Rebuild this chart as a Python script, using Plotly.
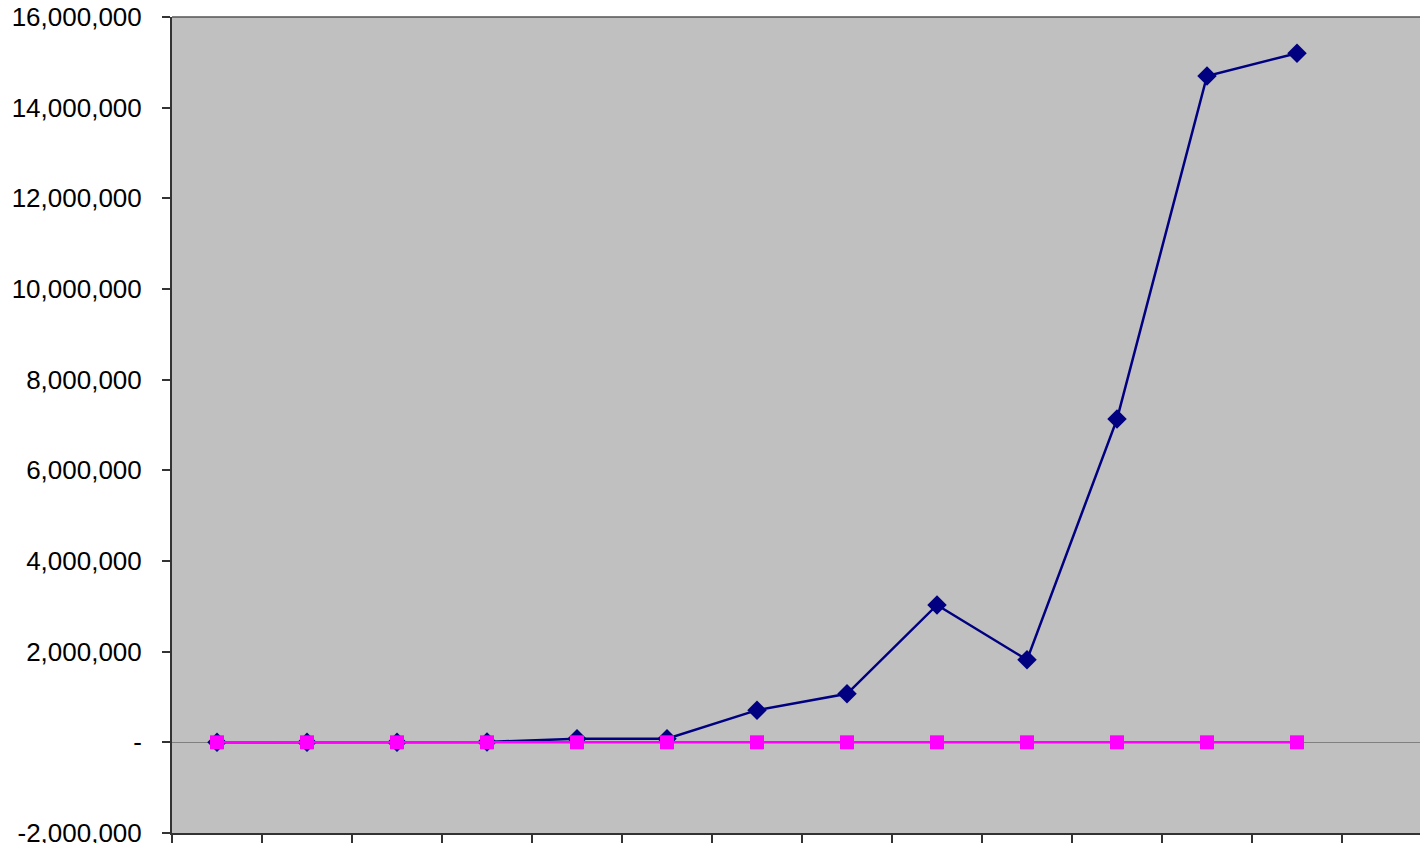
import plotly.graph_objects as go

# category positions (period index; labels fall outside the visible frame)
periods = list(range(13))
series_a = [0, 0, 0, 10000, 80000, 80000, 710000, 1070000, 3030000, 1820000, 7130000, 14700000, 15200000]
series_b = [0, 0, 0, 0, 0, 0, 0, 0, 0, 0, 0, 0, 0]
y_tickvals = [-2000000, 0, 2000000, 4000000, 6000000, 8000000, 10000000, 12000000, 14000000, 16000000]
y_ticktext = ["-2,000,000", "-", "2,000,000", "4,000,000", "6,000,000", "8,000,000",
              "10,000,000", "12,000,000", "14,000,000", "16,000,000"]

fig = go.Figure()
fig.add_trace(go.Scatter(
    x=periods, y=series_a, mode="lines+markers",
    line=dict(color="#000080", width=2.5),
    marker=dict(symbol="diamond", size=15, color="#000080"),
    showlegend=False,
))
fig.add_trace(go.Scatter(
    x=periods, y=series_b, mode="lines+markers",
    line=dict(color="#FF00FF", width=2.5),
    marker=dict(symbol="square", size=14, color="#FF00FF"),
    showlegend=False,
))

n_visible = 1256 / 90.0
fig.update_layout(
    width=1420, height=835,
    margin=dict(l=164, r=0, t=9, b=10, autoexpand=False),
    paper_bgcolor="white",
    plot_bgcolor="#C0C0C0",
    font=dict(family="Liberation Sans, Arial, sans-serif", size=26, color="black"),
    xaxis=dict(
        range=[-0.5, -0.5 + n_visible],
        tickvals=[i - 0.5 for i in range(15)],
        showticklabels=False, automargin=False,
        ticks="outside", ticklen=12, tickwidth=1.5, tickcolor="#333333",
        showgrid=False, zeroline=False,
        showline=True, linecolor="#333333", linewidth=2,
    ),
    yaxis=dict(
        range=[-2000000, 16000000],
        tickvals=y_tickvals, ticktext=y_ticktext, automargin=False,
        ticks="outside", ticklen=8, tickwidth=1.5, tickcolor="#333333",
        ticklabelstandoff=15,
        ticklabeloverflow="allow",
        showgrid=False,
        zeroline=True, zerolinecolor="#808080", zerolinewidth=1.2,
        showline=True, linecolor="#333333", linewidth=2,
    ),
    shapes=[dict(type="line", xref="paper", yref="paper", x0=0, x1=1, y0=1, y1=1,
                 line=dict(color="#555555", width=1.5))],
)

fig.write_html("out.html")
